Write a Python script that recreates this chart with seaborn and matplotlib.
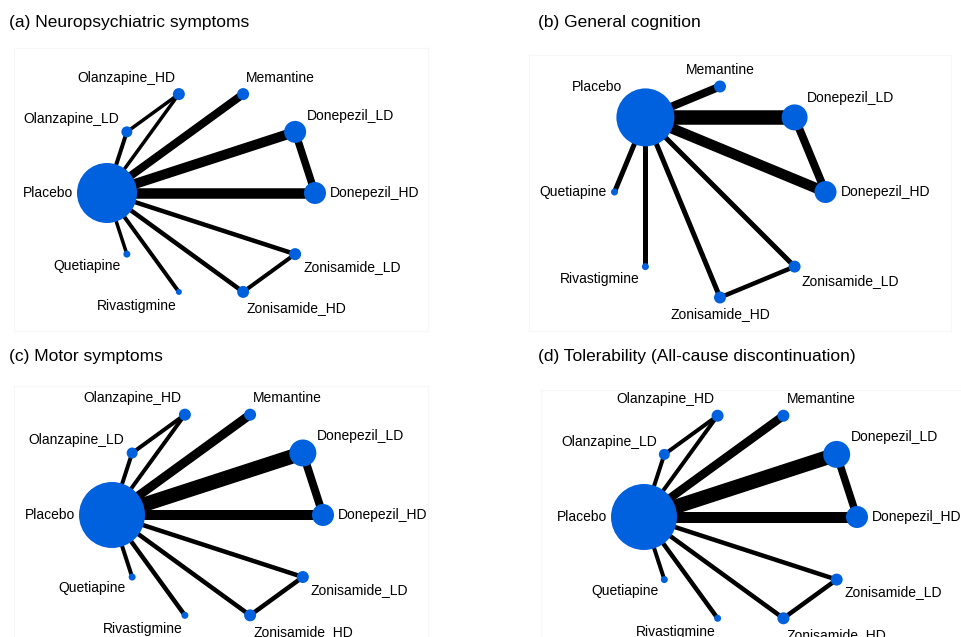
import numpy as np
import matplotlib
matplotlib.use("Agg")
import matplotlib.pyplot as plt
import seaborn as sns
import pandas as pd

sns.set_theme(style="white")
plt.rcParams['font.family'] = ['Liberation Sans', 'DejaVu Sans']

W, H = 962, 637
NODE_BLUE = "#0061DE"

# ---------------- data ----------------
titles = ["(a) Neuropsychiatric symptoms", "(b) General cognition",
          "(c) Motor symptoms", "(d) Tolerability (All-cause discontinuation)"]

nodes_full = ["Donepezil_HD", "Donepezil_LD", "Memantine", "Olanzapine_HD", "Olanzapine_LD",
              "Placebo", "Quetiapine", "Rivastigmine", "Zonisamide_HD", "Zonisamide_LD"]
nodes_cog = ["Donepezil_HD", "Donepezil_LD", "Memantine", "Placebo",
             "Quetiapine", "Rivastigmine", "Zonisamide_HD", "Zonisamide_LD"]

# node weights (relative sample size) per panel, in node order
a_node_w = [11, 11, 6, 6, 5.5, 30, 3.5, 3, 6, 6]
b_node_w = [11, 13, 6, 29, 3.5, 3.5, 6, 6]
c_node_w = [11, 13.5, 6, 6, 5.5, 33, 3.5, 3.5, 6, 6]
d_node_w = [11, 13.5, 6, 6, 5.5, 33, 3.5, 3.5, 6, 6]

# edges (relative number of studies)
a_from = ["Placebo", "Placebo", "Placebo", "Donepezil_LD", "Placebo", "Placebo", "Zonisamide_LD",
          "Placebo", "Placebo", "Placebo", "Placebo", "Olanzapine_LD"]
a_to = ["Donepezil_HD", "Donepezil_LD", "Memantine", "Donepezil_HD", "Zonisamide_LD", "Zonisamide_HD",
        "Zonisamide_HD", "Rivastigmine", "Quetiapine", "Olanzapine_LD", "Olanzapine_HD", "Olanzapine_HD"]
a_w = [10.5, 10, 8, 7.5, 4.5, 4.5, 4, 4, 3.5, 4, 3.5, 3.5]

b_from = ["Placebo", "Placebo", "Placebo", "Donepezil_LD", "Placebo", "Placebo", "Placebo",
          "Placebo", "Zonisamide_LD"]
b_to = ["Donepezil_LD", "Donepezil_HD", "Memantine", "Donepezil_HD", "Quetiapine", "Rivastigmine",
        "Zonisamide_HD", "Zonisamide_LD", "Zonisamide_HD"]
b_w = [14.5, 10.5, 8, 8, 5, 5, 5, 5, 4.5]

c_from = ["Placebo", "Placebo", "Placebo", "Donepezil_LD", "Placebo", "Placebo", "Zonisamide_LD",
          "Placebo", "Placebo", "Placebo", "Placebo", "Olanzapine_LD"]
c_to = ["Donepezil_LD", "Donepezil_HD", "Memantine", "Donepezil_HD", "Zonisamide_LD", "Zonisamide_HD",
        "Zonisamide_HD", "Rivastigmine", "Quetiapine", "Olanzapine_LD", "Olanzapine_HD", "Olanzapine_HD"]
c_w = [14.5, 10, 9, 8, 4.5, 4.5, 4.5, 4.5, 4, 4, 4, 4]

d_from = ["Placebo", "Placebo", "Placebo", "Donepezil_LD", "Placebo", "Placebo", "Zonisamide_LD",
          "Placebo", "Placebo", "Placebo", "Placebo", "Olanzapine_LD"]
d_to = ["Donepezil_LD", "Donepezil_HD", "Memantine", "Donepezil_HD", "Zonisamide_LD", "Zonisamide_HD",
        "Zonisamide_HD", "Rivastigmine", "Quetiapine", "Olanzapine_LD", "Olanzapine_HD", "Olanzapine_HD"]
d_w = [14.5, 11, 8.5, 7.5, 4.5, 4.5, 4.5, 4.5, 4, 4, 4, 4]

panels = [
    (nodes_full, a_node_w, a_from, a_to, a_w),
    (nodes_cog, b_node_w, b_from, b_to, b_w),
    (nodes_full, c_node_w, c_from, c_to, c_w),
    (nodes_full, d_node_w, d_from, d_to, d_w),
]

# ---------------- layout (pixels) ----------------
frames = [(14, 48, 428, 331), (529, 55, 951, 331), (14, 386, 428, 640), (541, 390, 965, 640)]
centers = [(211, 193, 104), (720, 192, 105.5), (217.5, 515, 105.5), (750.5, 517, 106.5)]
title_pos = [(9, 22), (538, 22), (9, 356), (538, 356)]

PT = 72.0 / 100.0  # px -> points at dpi 100

fig = plt.figure(figsize=(W / 100, H / 100), dpi=100)
fig.patch.set_facecolor("white")

for k, (nodes, node_w, e_from, e_to, e_w) in enumerate(panels):
    x0, y0, x1, y1 = frames[k]
    cx, cy, R = centers[k]
    ax = fig.add_axes([x0 / W, 1 - y1 / H, (x1 - x0) / W, (y1 - y0) / H])
    ax.set_xlim((x0 - cx) / R, (x1 - cx) / R)
    ax.set_ylim((cy - y1) / R, (cy - y0) / R)
    ax.set_xticks([]); ax.set_yticks([])
    ax.set_facecolor("white")
    for sp in ax.spines.values():
        sp.set_color("#f7f7f7")
        sp.set_linewidth(0.8)

    n = len(nodes)
    ang = np.array([2 * np.pi * i / n for i in range(n)])
    df = pd.DataFrame({"node": nodes, "x": np.cos(ang), "y": np.sin(ang),
                       "ang": ang, "w": node_w})
    pos = df.set_index("node")

    for f, t, w in zip(e_from, e_to, e_w):
        ax.plot([pos.loc[f, "x"], pos.loc[t, "x"]], [pos.loc[f, "y"], pos.loc[t, "y"]],
                color="black", lw=w * PT, solid_capstyle="butt", zorder=2)

    sizes = (2 * df["w"] * PT) ** 2
    sns.scatterplot(data=df, x="x", y="y", s=sizes.values, color=NODE_BLUE,
                    edgecolor="none", linewidth=0, ax=ax, legend=False, zorder=3)
    ax.set_xlabel(""); ax.set_ylabel("")

    for _, row in df.iterrows():
        c, s = np.cos(row["ang"]), np.sin(row["ang"])
        ha = "left" if c > 0.1 else ("right" if c < -0.1 else "center")
        va = "bottom" if s > 0.1 else ("top" if s < -0.1 else "center")
        off = (row["w"] + 4) * PT
        ax.annotate(row["node"], (row["x"], row["y"]), xytext=(off * c, off * s),
                    textcoords="offset points", ha=ha, va=va, fontsize=10,
                    color="black", zorder=4)

    tx, ty = title_pos[k]
    fig.text(tx / W, 1 - ty / H, titles[k], ha="left", va="center", fontsize=12.5,
             color="black")

fig.savefig("out.png", dpi=100, facecolor="white")
